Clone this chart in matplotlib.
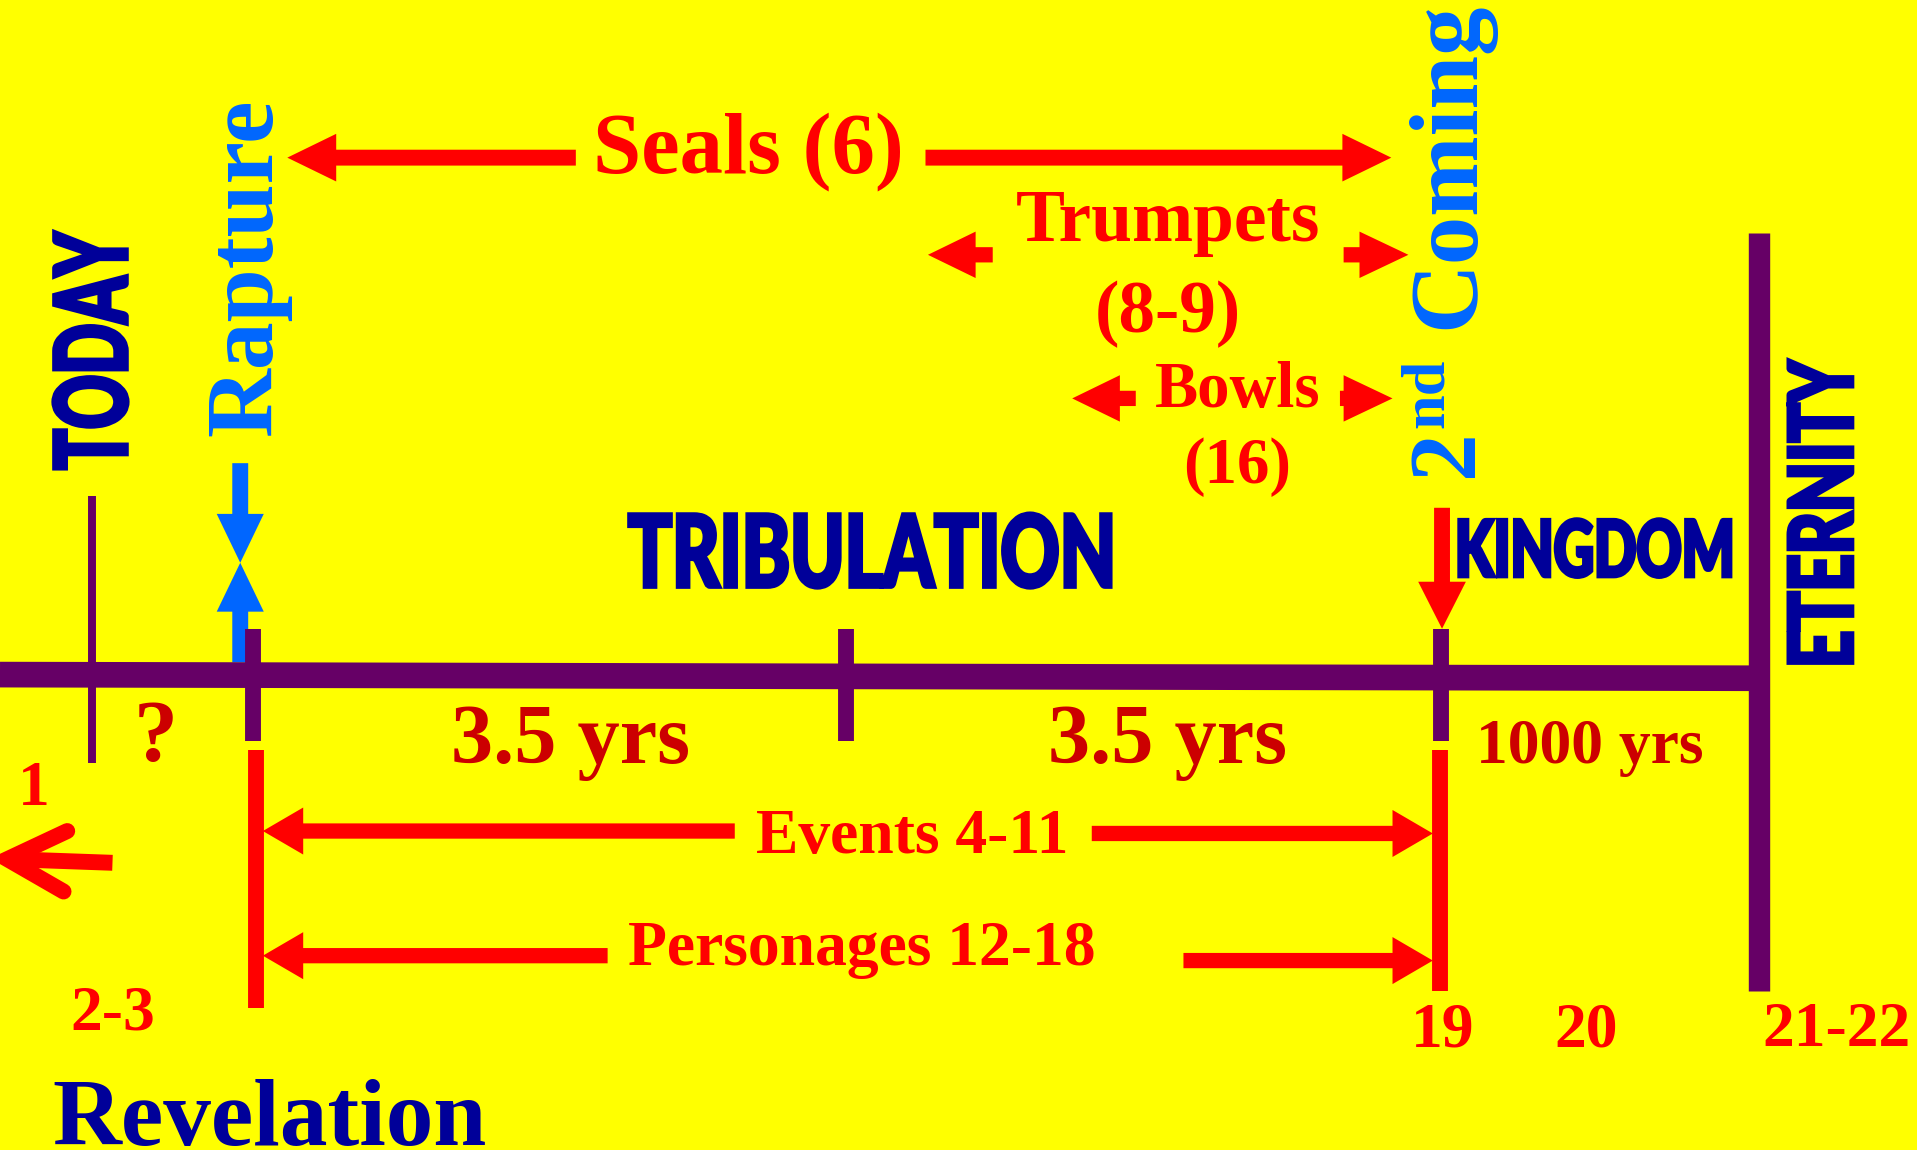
import numpy as np
import matplotlib
matplotlib.use('Agg')
import matplotlib.pyplot as plt
from matplotlib.patches import FancyArrow
from matplotlib.patheffects import AbstractPathEffect
from matplotlib.transforms import Affine2D

# drawing units = pixels of a 1568 x 941 preview, y grows downward
W, H = 1568, 941
PT = 1917 / W * 0.72      # one drawing unit expressed in points

YELLOW = '#FFFF00'
PURPLE = '#660066'
RED = '#FF0000'
DARKRED = '#CC0000'
BLUE = '#0066FF'
NAVY = '#000099'
SERIF = ['Liberation Serif', 'DejaVu Serif']
HEAVY = ['Lato', 'DejaVu Sans']

# ---- timeline ----
line_x = [0, 1439]
line_y = [552, 555]
tick_x = [207, 692, 1179]          # rapture, mid-point, 2nd coming
tick_span = [515, 606]
today_x = 75
today_span = [406, 624]
eternity_x = 1439
eternity_span = [191, 811]
redbar_x = [209.5, 1178]
redbar_span = [[614, 825], [614, 811]]

# ---- arrows: tail x, tail y, tip x, tip y, shaft, head width, head length, colour ----
arrows = [
    (471, 129, 235, 129, 13, 39, 40, RED),        # seals
    (757, 129, 1138, 129, 13, 39, 40, RED),
    (812, 208.5, 759, 208.5, 12.5, 38, 39, RED),  # trumpets
    (1099, 208.5, 1152, 208.5, 12.5, 38, 40, RED),
    (929, 326, 877, 326, 12.5, 38, 39, RED),      # bowls
    (1096, 326, 1139, 326, 12.5, 38, 40, RED),
    (601, 680, 215, 680, 12.5, 38.5, 33, RED),    # events
    (893, 682, 1172, 682, 12.5, 38.5, 33, RED),
    (497, 782, 215, 782, 12.5, 38.5, 33, RED),    # personages
    (968, 786, 1172, 786, 12.5, 38.5, 33, RED),
    (196.5, 379, 196.5, 460.5, 13, 38.5, 40, BLUE),   # rapture
    (196.5, 542, 196.5, 460.5, 13, 38.5, 40, BLUE),
    (1179.5, 415.5, 1179.5, 514.5, 13, 39, 38.5, RED),  # 2nd coming
]
# back-to-chapter-1 chevron
chev_shaft = [[92, 8], [706, 703]]
chev_head = [[55, 6, 52], [680, 703, 729.5]]

# ---- serif labels: text, x, baseline y, em size, colour ----
serif_labels = [
    ('Seals (6)', 612.5, 141, 71, RED),
    ('Trumpets', 955, 197, 60, RED),
    ('(8-9)', 955, 272, 60, RED),
    ('Bowls', 1012, 333, 53, RED),
    ('(16)', 1012, 395, 53, RED),
    ('?', 127, 623, 72, DARKRED),
    ('3.5 yrs', 467, 624, 69, DARKRED),
    ('3.5 yrs', 955, 624, 69, DARKRED),
    ('1000 yrs', 1300, 624, 52, DARKRED),
    ('Events 4-11', 746, 698, 52, RED),
    ('Personages 12-18', 705, 790, 52, RED),
    ('1', 28, 659, 52, RED),
    ('2-3', 92, 842, 52, RED),
    ('19', 1180, 856, 52, RED),
    ('20', 1297, 856, 52, RED),
    ('21-22', 1502, 856, 52, RED),
]
# vertical blue labels: text, baseline x, start y, em size
blue_labels = [
    ('Rapture', 222, 357, 78),
    ('2', 1204, 390, 78),
    ('nd', 1180, 350, 51),
    ('Coming', 1205, 269, 79),
]
# heavy block labels: text, centre x, centre y, length, cap height, rotation
block_labels = [
    ('TODAY', 74, 286.5, 197, 64, 90),
    ('TRIBULATION', 711.5, 450.5, 397, 64, 0),
    ('KINGDOM', 1304.5, 448.5, 225, 50.5, 0),
    ('ETERNITY', 1489, 418.5, 251, 55.5, 90),
]


class FitBox(AbstractPathEffect):
    """Squeeze the glyph outline of a text into a fixed box (Impact-like look)."""

    def __init__(self, ax, cx, cy, w, h, rot=0, grow=0.0):
        super().__init__()
        self.ax, self.cx, self.cy = ax, cx, cy
        self.w, self.h, self.rot, self.grow = w, h, rot, grow

    def draw_path(self, renderer, gc, tpath, affine, rgbFace=None):
        ext = tpath.get_extents()
        t = self.ax.transData
        x0, y0 = t.transform((self.cx, self.cy))
        x1, _ = t.transform((self.cx + self.w, self.cy))
        _, y1 = t.transform((self.cx, self.cy + self.h))
        w, h = abs(x1 - x0), abs(y1 - y0)
        g = self.grow * w / self.w
        sx = (w - g) / ext.width
        sy = (h - g) / ext.height
        lcx = (ext.x0 + ext.x1) / 2
        lcy = (ext.y0 + ext.y1) / 2
        trans = (Affine2D().translate(-lcx, -lcy).scale(sx, sy)
                 .rotate_deg(self.rot).translate(x0, y0))
        gc2 = renderer.new_gc()
        gc2.copy_properties(gc)
        gc2.set_foreground(rgbFace)
        gc2.set_linewidth(g / renderer.points_to_pixels(1.0))
        gc2.set_joinstyle('miter')
        renderer.draw_path(gc2, tpath, trans, rgbFace)
        gc2.restore()


fig = plt.figure(figsize=(19.17, 11.5), dpi=100, facecolor=YELLOW)
ax = fig.add_axes([0, 0, 1, 1])
ax.set_xlim(0, W)
ax.set_ylim(H, 0)
ax.axis('off')
ax.set_facecolor(YELLOW)

# timeline bars
ax.plot(line_x, line_y, color=PURPLE, lw=21 * PT, solid_capstyle='butt')
for x in tick_x:
    ax.plot([x, x], tick_span, color=PURPLE, lw=13 * PT, solid_capstyle='butt')
ax.plot([today_x, today_x], today_span, color=PURPLE, lw=6.5 * PT, solid_capstyle='butt')
ax.plot([eternity_x, eternity_x], eternity_span, color=PURPLE, lw=17.5 * PT,
        solid_capstyle='butt')
for x, span in zip(redbar_x, redbar_span):
    ax.plot([x, x], span, color=RED, lw=13 * PT, solid_capstyle='butt')

for xt, yt, xh, yh, sw, hw, hl, c in arrows:
    ax.add_patch(FancyArrow(xt, yt, xh - xt, yh - yt, width=sw, head_width=hw,
                            head_length=hl, length_includes_head=True,
                            color=c, lw=0))

ax.plot(*chev_shaft, color=RED, lw=13 * PT, solid_capstyle='butt')
ax.plot(*chev_head, color=RED, lw=13 * PT, solid_capstyle='round',
        solid_joinstyle='miter')

for s, x, y, em, c in serif_labels:
    ax.text(x, y, s, ha='center', va='baseline', color=c, family=SERIF,
            weight='bold', fontsize=em * PT)

ax.text(43, 936.5, 'Revelation', ha='left', va='baseline', color=NAVY,
        family=SERIF, weight='bold', fontsize=78 * PT)

for s, x, y, em in blue_labels:
    ax.text(x, y, s, rotation=90, rotation_mode='anchor', ha='left',
            va='baseline', color=BLUE, family=SERIF, weight='bold',
            fontsize=em * PT)

for s, x, y, ln, cap, rot in block_labels:
    ax.text(x, y, s, ha='center', va='center', rotation=rot, color=NAVY,
            family=HEAVY, weight='black', fontsize=cap / 0.72 * PT,
            path_effects=[FitBox(ax, x, y, ln, cap, rot, grow=3.0)])

fig.savefig('out.png', dpi=100, facecolor=YELLOW)
